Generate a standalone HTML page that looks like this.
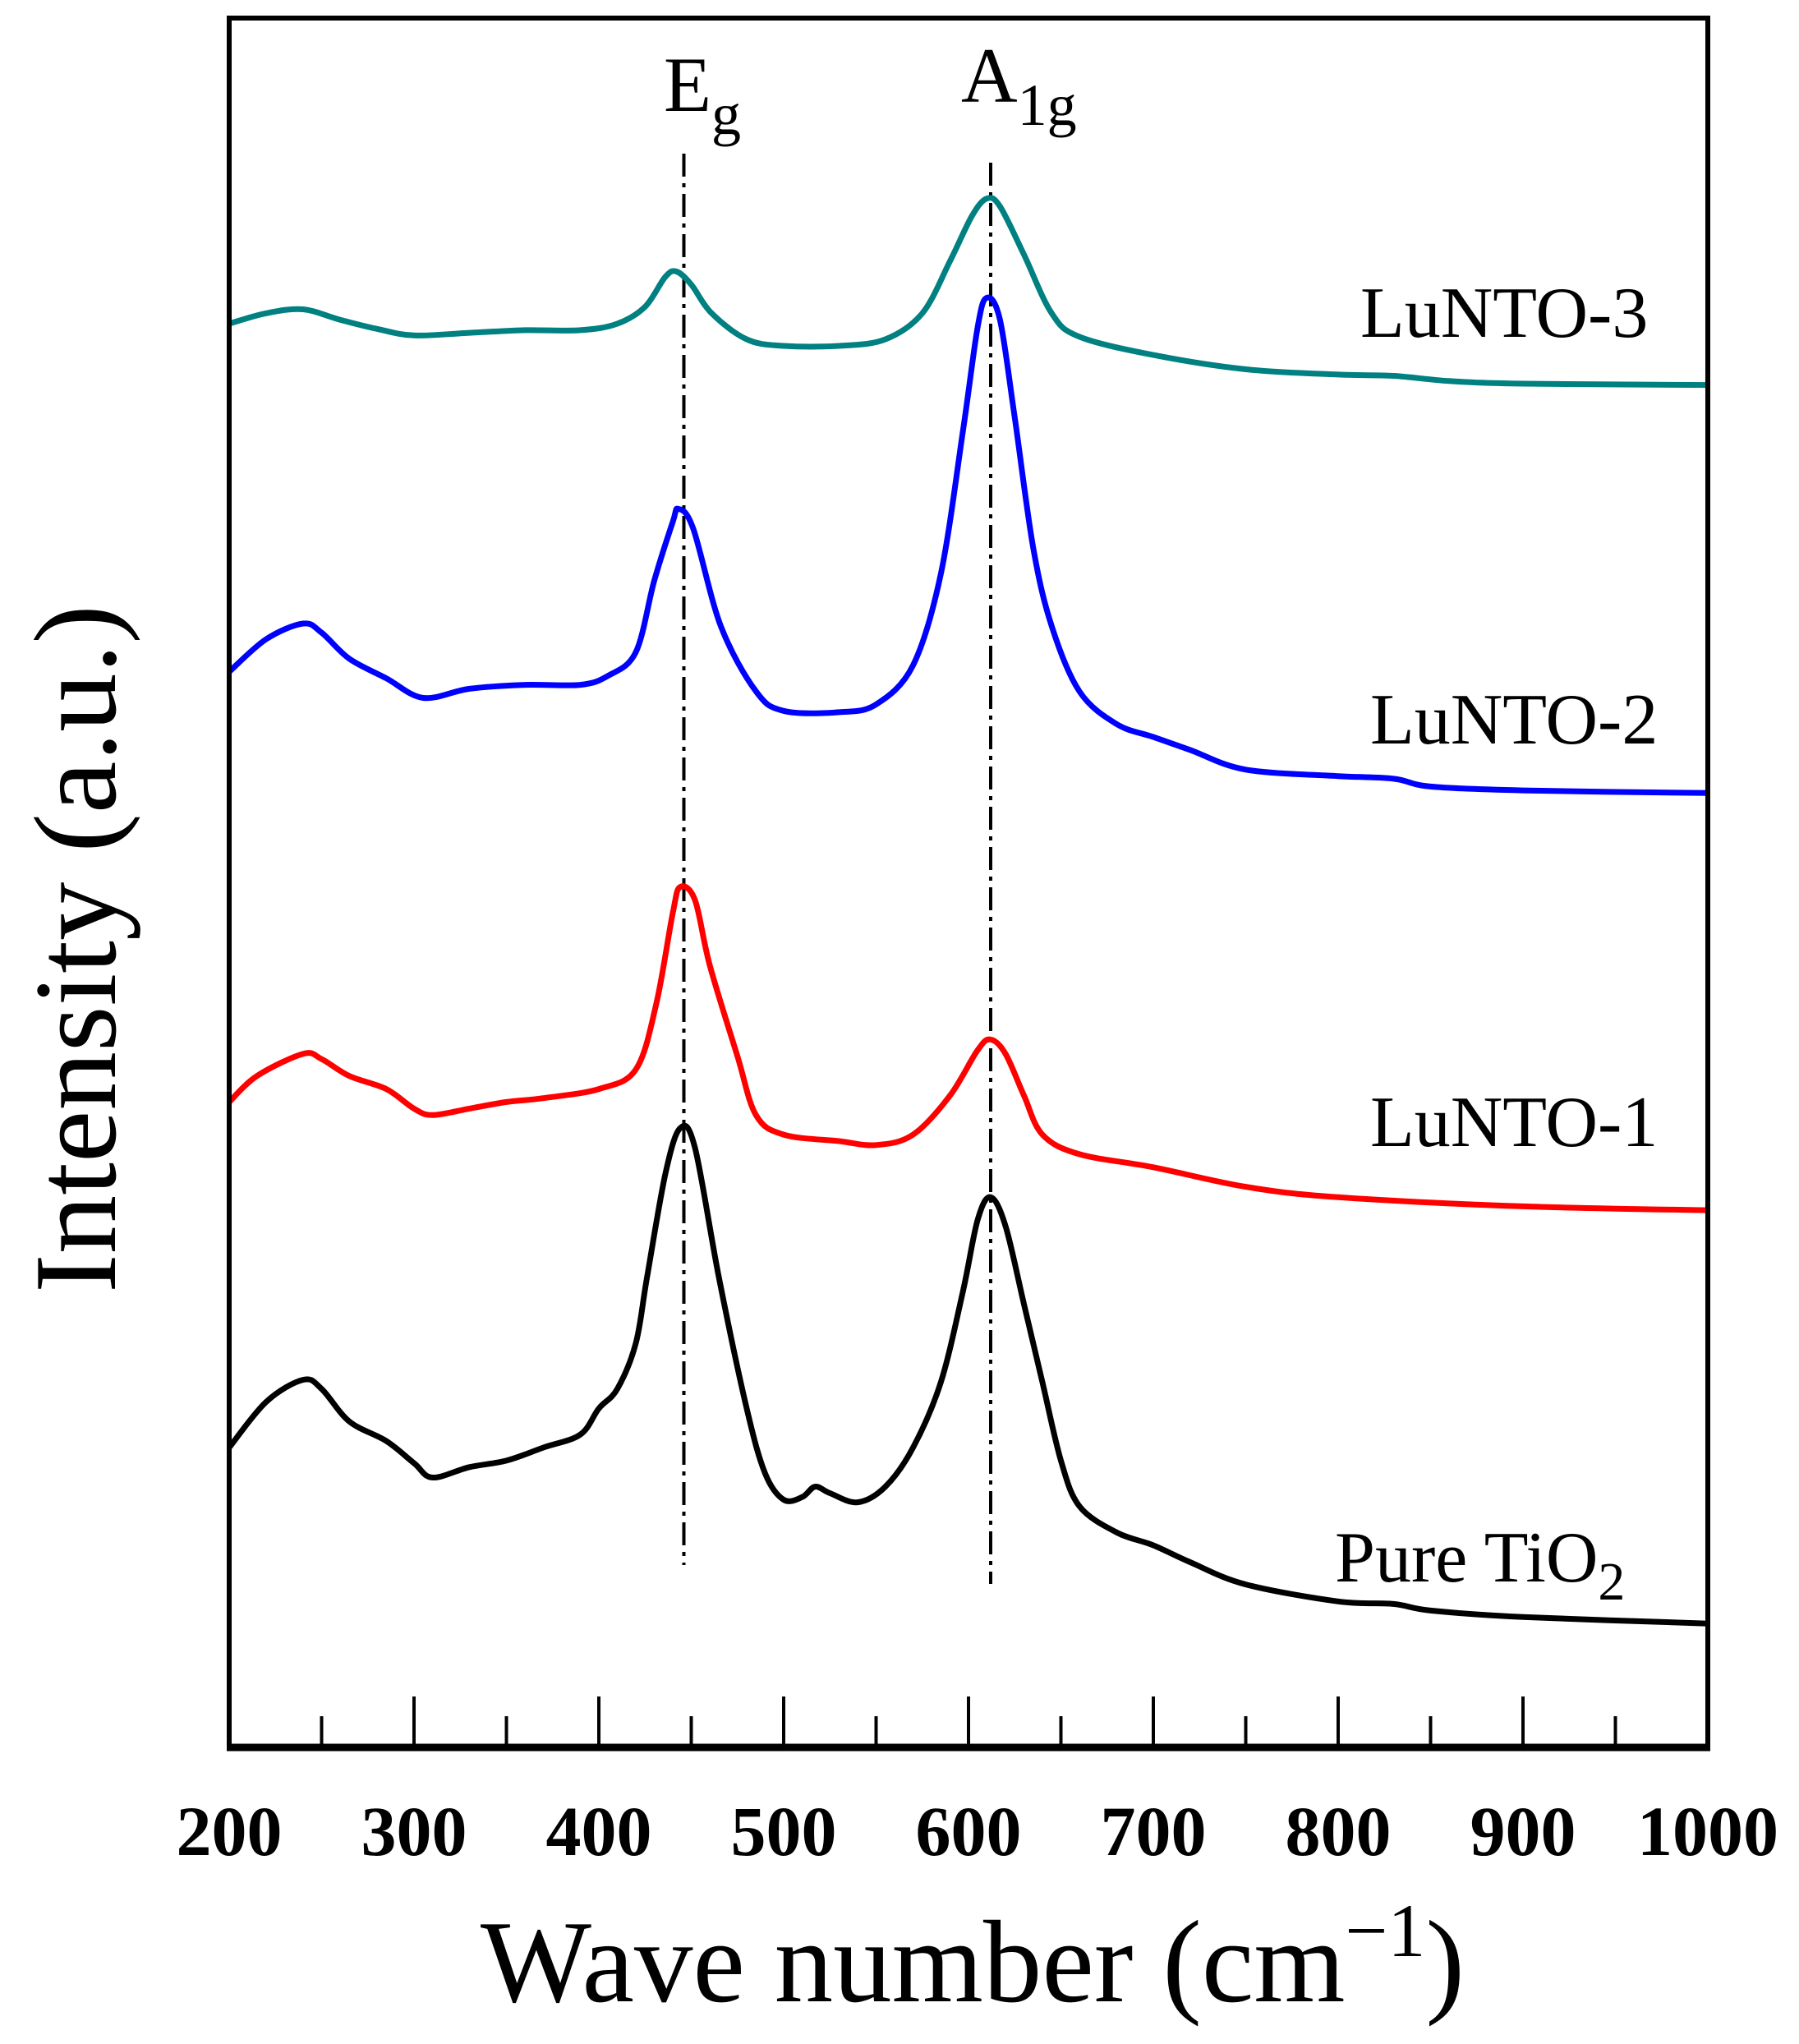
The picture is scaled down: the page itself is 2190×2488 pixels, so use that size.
<!DOCTYPE html>
<html><head><meta charset="utf-8"><style>
html,body{margin:0;padding:0;background:#fff;}
svg{display:block;font-family:"Liberation Serif",serif;}
</style></head><body>
<svg id="chart" width="2190" height="2488" viewBox="0 0 2190 2488" xmlns="http://www.w3.org/2000/svg">
<rect x="0" y="0" width="2190" height="2488" fill="#fff"/>
<g id="plot"></g>
<text x="1184" y="2436" font-size="143" text-anchor="middle">Wave number (cm<tspan dy="-55" font-size="92">−1</tspan><tspan dy="55">)</tspan></text>
<text transform="translate(140,1155) rotate(-90)" font-size="143" text-anchor="middle">Intensity (a.u.)</text>
<text x="808" y="135" font-size="95">E<tspan dy="28" font-size="72">g</tspan></text>
<text x="1170" y="124" font-size="95">A<tspan dy="28" font-size="72">1g</tspan></text>
</svg>
<script>
const xTicks = [200,300,400,500,600,700,800,900,1000];
const seriesNames = ['Pure TiO2','LuNTO-1','LuNTO-2','LuNTO-3'];
const blackX = [200,220,240,250,265,285,300,310,330,350,370,390,400,410,420,426,436,444,452,465,480,490,500,510,517,525,540,555,570,585,597,605,612,620,630,640,650,660,680,700,720,750,800,830,850,900,1000];
const blackY = [230,265,282,275,250,235,218,207,215,220,230,240,260,275,310,360,440,475,460,360,260,210,190,192,200,195,188,200,230,280,350,405,422,400,340,280,220,185,165,155,142,125,112,110,105,100,95];
const redX = [200,215,240,250,265,285,300,310,330,350,370,400,420,431,440,444,452,460,475,485,500,530,550,570,590,605,612,620,630,640,660,700,750,800,900,1000];
const redY = [495,515,532,528,515,505,490,485,490,495,498,505,520,570,640,660,650,600,530,485,470,465,462,470,500,535,543,532,500,470,455,445,430,422,415,412];
const blueX = [200,220,240,250,265,285,305,330,360,390,405,420,430,440,443,451,466,485,500,530,550,570,585,597,605,610,617,625,635,645,660,680,700,720,750,800,830,850,900,1000];
const blueY = [825,850,862,855,835,820,805,812,815,815,822,840,895,940,950,935,860,810,795,794,800,830,900,1010,1090,1112,1095,1020,920,860,810,785,775,765,750,745,743,737,734,732];
const tealX = [200,220,240,260,280,300,330,360,390,410,425,436,442,450,461,480,500,530,555,575,590,602,610,617,630,645,660,700,750,800,830,860,900,1000];
const tealY = [1092,1100,1103,1095,1088,1083,1085,1087,1087,1092,1105,1128,1132,1122,1100,1080,1075,1075,1080,1100,1140,1175,1188,1182,1145,1100,1082,1068,1057,1053,1052,1048,1046,1045];
const labelNames = ['Pure TiO','LuNTO-1','LuNTO-2','LuNTO-3'];
const peakPositions = [446,612];

const L=279,R=2079,T=22,B=2127;
const xs = w => L + (w-200)*(R-L)/800;
const ys = v => B - v*1.587;
const NS='http://www.w3.org/2000/svg';
const g=document.getElementById('plot');
function mk(tag,attrs){const e=document.createElementNS(NS,tag);for(const k in attrs)e.setAttribute(k,attrs[k]);g.appendChild(e);return e;}
function pathFrom(X,Y){
  const p=X.map((x,i)=>[xs(x),ys(Y[i])]);
  let d='M'+p[0][0].toFixed(1)+','+p[0][1].toFixed(1);
  for(let i=0;i<p.length-1;i++){
    const p0=p[Math.max(0,i-1)],p1=p[i],p2=p[i+1],p3=p[Math.min(p.length-1,i+2)];
    const c1x=p1[0]+(p2[0]-p0[0])/6,c1y=p1[1]+(p2[1]-p0[1])/6;
    const c2x=p2[0]-(p3[0]-p1[0])/6,c2y=p2[1]-(p3[1]-p1[1])/6;
    d+=' C'+c1x.toFixed(1)+','+c1y.toFixed(1)+' '+c2x.toFixed(1)+','+c2y.toFixed(1)+' '+p2[0].toFixed(1)+','+p2[1].toFixed(1);
  }
  return d;
}
const pl1=mk('line',{x1:xs(peakPositions[0]),x2:xs(peakPositions[0]),y1:187,y2:1905,stroke:'#000','stroke-width':4,'stroke-dasharray':'28,8,5,8'});


const pl2=mk('line',{x1:xs(peakPositions[1]),x2:xs(peakPositions[1]),y1:198,y2:1928,stroke:'#000','stroke-width':4,'stroke-dasharray':'28,8,5,8'});


const S=[[blackX,blackY,'#000','series-pure-tio2'],[redX,redY,'#ff0000','series-lunto-1'],[blueX,blueY,'#0000ff','series-lunto-2'],[tealX,tealY,'#008080','series-lunto-3']];
S.forEach(s=>{
  const e=mk('path',{d:pathFrom(s[0],s[1]),fill:'none',stroke:s[2],'stroke-width':7,'stroke-linejoin':'round'});
  
  
});
const fr=mk('rect',{x:L,y:T,width:R-L,height:B-T,fill:'none',stroke:'#000','stroke-width':6});


const bl=mk('line',{x1:L-3,x2:R+3,y1:B,y2:B,stroke:'#000','stroke-width':9});


for(let w=250;w<1000;w+=50){
  const major=(w%100===0);
  const t=mk('line',{x1:xs(w),x2:xs(w),y1:B,y2:B-(major?62:38),stroke:'#000','stroke-width':4});
  
  
}
xTicks.forEach(w=>{
  const t=mk('text',{x:xs(w),y:2258,'font-size':86,'font-weight':'bold','text-anchor':'middle'});
  t.textContent=String(w);
  
  
});
const lab=[[1625,1925,'pure-tio2-label'],[1668,1395,'lunto-1-label'],[1668,905,'lunto-2-label'],[1656,410,'lunto-3-label']];
lab.forEach((l,i)=>{
  const t=mk('text',{x:l[0],y:l[1],'font-size':88});
  t.textContent=labelNames[i];
  if(i===0){const ts=document.createElementNS(NS,'tspan');ts.setAttribute('dy','22');ts.setAttribute('font-size','66');ts.textContent='2';t.appendChild(ts);}
  
  
});
</script>
</body></html>
